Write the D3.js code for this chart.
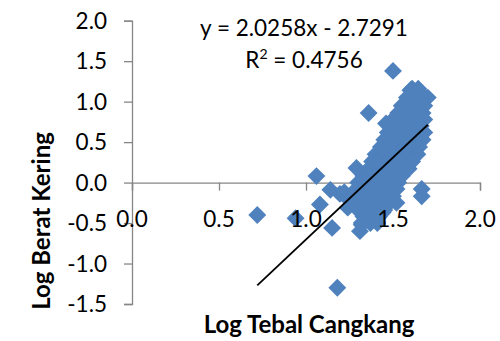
<!DOCTYPE html>
<html>
<head>
<meta charset="utf-8">
<script src="https://cdn.jsdelivr.net/npm/d3@7"></script>
<style>
  body { margin: 0; background: #fff; }
  svg { display: block; font-family: Lato, "Open Sans", sans-serif; }
  .axis path, .axis line { stroke: #868686; stroke-width: 1.3; fill: none; }
  .tick-label { font-size: 22.5px; fill: #000; }
  .title { font-size: 24px; font-weight: bold; fill: #000; }
</style>
</head>
<body>
<script>
// values (log shell thickness vs log dry weight)
const logTebal = [
  0.72, 0.94, 1.06, 1.08, 1.14, 1.195, 1.15, 1.18, 1.29, 1.36, 1.50, 1.31, 1.37, 1.665,
  1.665, 1.70, 1.645, 1.61, 1.46, 1.22, 1.25, 1.24, 1.32, 1.44,
  1.60, 1.645,
  1.58, 1.62, 1.66,
  1.55, 1.60, 1.64, 1.68,
  1.53, 1.58, 1.62, 1.67,
  1.50, 1.55, 1.60, 1.64, 1.68,
  1.48, 1.53, 1.57, 1.62, 1.66,
  1.47, 1.51, 1.56, 1.60, 1.64, 1.68,
  1.45, 1.50, 1.54, 1.59, 1.63, 1.67,
  1.43, 1.47, 1.52, 1.57, 1.61, 1.65,
  1.40, 1.45, 1.50, 1.54, 1.59, 1.64,
  1.38, 1.42, 1.47, 1.51, 1.56, 1.61,
  1.36, 1.40, 1.45, 1.49, 1.54, 1.59,
  1.33, 1.37, 1.42, 1.46, 1.51, 1.55,
  1.30, 1.35, 1.39, 1.44, 1.48, 1.53,
  1.29, 1.33, 1.38, 1.42, 1.47, 1.52,
  1.27, 1.31, 1.36, 1.40, 1.45, 1.50,
  1.28, 1.33, 1.38, 1.43, 1.48, 1.52,
  1.30, 1.35, 1.40, 1.45,
  1.33, 1.38, 1.42,
  1.32, 1.37, 1.41
]
const logBerat = [
  -0.40, -0.44, 0.08, -0.27, -0.09, -0.14, -0.56, -1.30, 0.18, 0.86, 1.38, -0.60, -0.48, -0.08,
  -0.17, 1.05, 1.16, 1.16, 0.73, -0.12, -0.22, -0.31, -0.52, -0.37,
  1.14, 1.14,
  1.05, 1.05, 1.05,
  0.95, 0.95, 0.95, 0.95,
  0.86, 0.86, 0.86, 0.86,
  0.78, 0.78, 0.78, 0.78, 0.78,
  0.70, 0.70, 0.70, 0.70, 0.70,
  0.62, 0.62, 0.62, 0.62, 0.62, 0.62,
  0.53, 0.53, 0.53, 0.53, 0.53, 0.53,
  0.44, 0.44, 0.44, 0.44, 0.44, 0.44,
  0.35, 0.35, 0.35, 0.35, 0.35, 0.35,
  0.26, 0.26, 0.26, 0.26, 0.26, 0.26,
  0.17, 0.17, 0.17, 0.17, 0.17, 0.17,
  0.08, 0.08, 0.08, 0.08, 0.08, 0.08,
  0.00, 0.00, 0.00, 0.00, 0.00, 0.00,
  -0.08, -0.08, -0.08, -0.08, -0.08, -0.08,
  -0.17, -0.17, -0.17, -0.17, -0.17, -0.17,
  -0.25, -0.25, -0.25, -0.25, -0.25, -0.25,
  -0.34, -0.34, -0.34, -0.34,
  -0.42, -0.42, -0.42,
  -0.50, -0.50, -0.50
]
const xTicks = [0, 0.5, 1.0, 1.5, 2.0]
const yTicks = [-1.5, -1.0, -0.5, 0, 0.5, 1.0, 1.5, 2.0]
const slope = 2.0258
const intercept = -2.7291
const equation = 'y = 2.0258x - 2.7291'
const rSquared = '0.4756'

const width = 500
const height = 341

const x = d3.scaleLinear().domain([0, 2]).range([132, 480])
const y = d3.scaleLinear().domain([-1.5, 2]).range([304, 20.7])
const fmt = d => d.toFixed(1)

const svg = d3.select('body').append('svg')
    .attr('width', width)
    .attr('height', height)

// axis lines (labels drawn later, above the markers)
svg.append('g')
    .attr('class', 'axis')
    .attr('transform', 'translate(' + x(0) + ',0)')
    .call(d3.axisLeft(y).tickValues(yTicks).tickSize(8).tickFormat(''))

svg.append('g')
    .attr('class', 'axis')
    .attr('transform', 'translate(0,' + y(0) + ')')
    .call(d3.axisBottom(x).tickValues(xTicks).tickSize(8).tickFormat(''))

const points = logTebal.map((v, i) => [v, logBerat[i]])

const diamond = d3.symbol().type(d3.symbolSquare).size(160)

svg.append('g').selectAll('path')
    .data(points)
  .enter().append('path')
    .attr('d', diamond)
    .attr('fill', '#4f81bd')
    .attr('transform', d => 'translate(' + x(d[0]) + ',' + y(d[1]) + ') rotate(45)')

// linear trendline over the data range
const xExtent = d3.extent(logTebal)
svg.append('line')
    .attr('x1', x(xExtent[0]))
    .attr('y1', y(slope * xExtent[0] + intercept))
    .attr('x2', x(xExtent[1]))
    .attr('y2', y(slope * xExtent[1] + intercept))
    .attr('stroke', '#000')
    .attr('stroke-width', 1.8)

// tick labels
svg.append('g').selectAll('text')
    .data(yTicks)
  .enter().append('text')
    .attr('class', 'tick-label')
    .attr('x', 107)
    .attr('y', d => y(d))
    .attr('dy', '0.36em')
    .attr('text-anchor', 'end')
    .text(fmt)

svg.append('g').selectAll('text')
    .data(xTicks)
  .enter().append('text')
    .attr('class', 'tick-label')
    .attr('x', d => x(d))
    .attr('y', 226.7)
    .attr('text-anchor', 'middle')
    .text(fmt)

// trendline label
svg.append('text')
    .attr('class', 'tick-label')
    .attr('x', 304)
    .attr('y', 36)
    .attr('text-anchor', 'middle')
    .text(equation)

const r2 = svg.append('text')
    .attr('class', 'tick-label')
    .attr('x', 304)
    .attr('y', 68.3)
    .attr('text-anchor', 'middle')
r2.append('tspan').text('R')
r2.append('tspan').attr('font-size', '14px').attr('dy', '-9').text('2')
r2.append('tspan').attr('dy', '9').text(' = ' + rSquared)

// axis titles
svg.append('text')
    .attr('class', 'title')
    .attr('x', 309)
    .attr('y', 333)
    .attr('text-anchor', 'middle')
    .text('Log Tebal Cangkang')

svg.append('text')
    .attr('class', 'title')
    .attr('transform', 'translate(50,221) rotate(-90)')
    .attr('text-anchor', 'middle')
    .text('Log Berat Kering')
</script>
</body>
</html>
